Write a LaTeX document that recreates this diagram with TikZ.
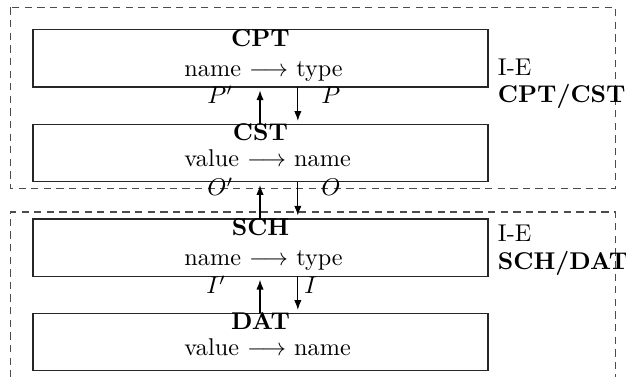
\documentclass[tikz,border=0pt]{standalone}
\usetikzlibrary{arrows.meta}
\begin{document}
\begin{tikzpicture}[x=0.4125pt,y=-0.4125pt,
  layer/.style={draw=black!85,line width=0.45pt,inner sep=0pt,outer sep=0pt,
    minimum width=187.7pt,minimum height=23.7pt},
  frame/.style={draw=black!70,line width=0.45pt,dash pattern=on 3pt off 2.2pt},
  flow/.style={-{Latex[length=4pt,width=3pt]},line width=0.45pt,shorten >=1.4pt},
  lbl/.style={inner sep=0pt,anchor=base},
  lblw/.style={inner sep=0pt,anchor=base west}]
  \path[use as bounding box] (0,0) rectangle (626,377);
  \clip (0,0) rectangle (626,377);

  % dashed groupings
  \draw[frame] (10.5,7.5) rectangle (615.5,188.5);
  \draw[frame] (10.5,390) -- (10.5,212) -- (615.5,212) -- (615.5,390);

  % the four layers
  \node[layer] (cpt) at (260.5,58.3) {};
  \node[layer] (cst) at (260.5,153) {};
  \node[layer] (sch) at (260.5,247.7) {};
  \node[layer] (dat) at (260.5,342) {};

  % layer contents
  \node[lbl] (cptt) at (260.5,46.7) {\textbf{CPT}};
  \node[lblw] (cptm) at (184,76.7) {name $\longrightarrow$ type};
  \node[lbl] (cstt) at (260.5,140.5) {\textbf{CST}};
  \node[lblw] (cstm) at (184,166.5) {value $\longrightarrow$ name};
  \node[lbl] (scht) at (260.5,236) {\textbf{SCH}};
  \node[lblw] (schm) at (184,266) {name $\longrightarrow$ type};
  \node[lbl] (datt) at (260.5,330) {\textbf{DAT}};
  \node[lblw] (datm) at (184,355.5) {value $\longrightarrow$ name};

  % group captions
  \node[lblw] (ie1) at (497.5,76) {I-E};
  \node[lblw] (g1) at (497.5,103) {\textbf{CPT/CST}};
  \node[lblw] (ie2) at (497.5,242) {I-E};
  \node[lblw] (g2) at (497.5,270) {\textbf{SCH/DAT}};

  % mappings between layers
  \draw[flow] ([xshift=-0.2pt]cst.north) -- ([xshift=-0.2pt]cpt.south);
  \draw[flow] ([xshift=15.4pt]cpt.south) -- ([xshift=15.4pt]cst.north);
  \draw[flow] ([xshift=-0.2pt]sch.north) -- ([xshift=-0.2pt]cst.south);
  \draw[flow] ([xshift=15.4pt]cst.south) -- ([xshift=15.4pt]sch.north);
  \draw[flow] ([xshift=-0.2pt]dat.north) -- ([xshift=-0.2pt]sch.south);
  \draw[flow] ([xshift=15.4pt]sch.south) -- ([xshift=15.4pt]dat.north);

  % mapping names
  \node[lblw] (pp) at (207,104) {$P'$};
  \node[lblw] (p) at (321,104) {$P$};
  \node[lblw] (op) at (207,196) {$O'$};
  \node[lblw] (o) at (321,196) {$O$};
  \node[lblw] (ip) at (206,294) {$I'$};
  \node[lblw] (i) at (304,294) {$I$};
\end{tikzpicture}
\end{document}
